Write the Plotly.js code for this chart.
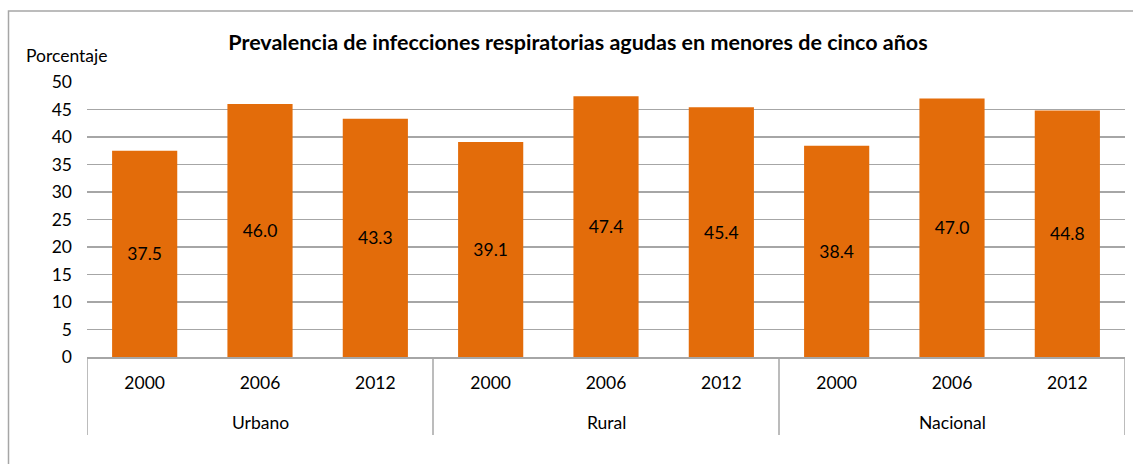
<!DOCTYPE html>
<html>
<head>
<meta charset="utf-8">
<script src="https://cdn.plot.ly/plotly-3.0.1.min.js"></script>
<style>html,body{margin:0;padding:0;background:#fff;}#chart{width:1133px;height:464px;}</style>
</head>
<body>
<div id="chart"></div>
<script>
const groups = ["Urbano","Urbano","Urbano","Rural","Rural","Rural","Nacional","Nacional","Nacional"];
const years = ["2000","2006","2012","2000","2006","2012","2000","2006","2012"];
const values = [37.5, 46.0, 43.3, 39.1, 47.4, 45.4, 38.4, 47.0, 44.8];
const yTicks = [0,5,10,15,20,25,30,35,40,45,50];

const FONT = "Lato, 'Open Sans', sans-serif";
const W = 1133, H = 464;
const L = 87, R = 1125, T = 82, B = 357;
const GRAY = "#A6A6A6";

const cats = years.map((y, i) => groups[i] + " " + y);
const groupNames = [...new Set(groups)];

const trace = {
  type: "bar",
  x: cats,
  y: values,
  text: values.map(v => v.toFixed(1)),
  textposition: "inside",
  insidetextanchor: "middle",
  textangle: 0,
  textfont: {family: FONT, size: 17.5, color: "#000"},
  marker: {color: "#E36C0A", line: {width: 0}},
  hoverinfo: "skip"
};

const px2x = p => (p - L) / (R - L);
const px2y = p => (B - p) / (B - T);

const annotations = [{
  text: "Porcentaje", xref: "paper", yref: "paper",
  x: px2x(24), y: px2y(55), xanchor: "left", yanchor: "middle",
  showarrow: false, font: {family: FONT, size: 17.5, color: "#000"}
}];
const shapes = [{
  type: "path", xref: "paper", yref: "paper",
  path: `M ${px2x(8.5)},${px2y(600)} L ${px2x(8.5)},${px2y(11)} L ${px2x(1300)},${px2y(11)}`,
  line: {color: GRAY, width: 1.5}
}];
groupNames.forEach((g, gi) => {
  const idx = groups.map((v, i) => v === g ? i : -1).filter(i => i >= 0);
  const first = idx[0], last = idx[idx.length - 1];
  annotations.push({
    text: g, xref: "x", yref: "paper",
    x: (first + last) / 2, y: px2y(422), xanchor: "center", yanchor: "middle",
    showarrow: false, font: {family: FONT, size: 17.5, color: "#000"}
  });
  if (gi === 0) {
    shapes.push({type: "line", xref: "x", yref: "paper", x0: first - 0.5, x1: first - 0.5,
      y0: 0, y1: px2y(435), line: {color: GRAY, width: 1.5}});
  }
  shapes.push({type: "line", xref: "x", yref: "paper", x0: last + 0.5, x1: last + 0.5,
    y0: 0, y1: px2y(435), line: {color: GRAY, width: 1.5}});
});

const layout = {
  width: W, height: H,
  margin: {l: L, r: W - R, t: T, b: H - B, pad: 0},
  paper_bgcolor: "#fff", plot_bgcolor: "#fff",
  showlegend: false,
  bargap: 0.435,
  font: {family: FONT, size: 17.5, color: "#000"},
  title: {
    text: "<b>Prevalencia de infecciones respiratorias agudas en menores de cinco años</b>",
    font: {family: FONT, size: 21.5, color: "#000"},
    x: 578 / W, xanchor: "center", xref: "container",
    y: 1 - 42 / H, yanchor: "middle", yref: "container"
  },
  xaxis: {
    type: "category",
    range: [-0.5, cats.length - 0.5],
    tickvals: cats, ticktext: years,
    showline: true, linecolor: GRAY, linewidth: 2,
    showgrid: false, ticks: "",
    ticklabelstandoff: 9,
    tickfont: {family: FONT, size: 17.5, color: "#000"}
  },
  yaxis: {
    range: [0, 50],
    tickvals: yTicks,
    ticktext: yTicks.map(String),
    showgrid: true, gridcolor: GRAY, gridwidth: 1.5,
    zeroline: false, showline: false, ticks: "",
    ticklabelstandoff: 14,
    tickfont: {family: FONT, size: 17.5, color: "#000"}
  },
  annotations: annotations,
  shapes: shapes
};

Plotly.newPlot("chart", [trace], layout, {displayModeBar: false, staticPlot: true});
</script>
</body>
</html>
